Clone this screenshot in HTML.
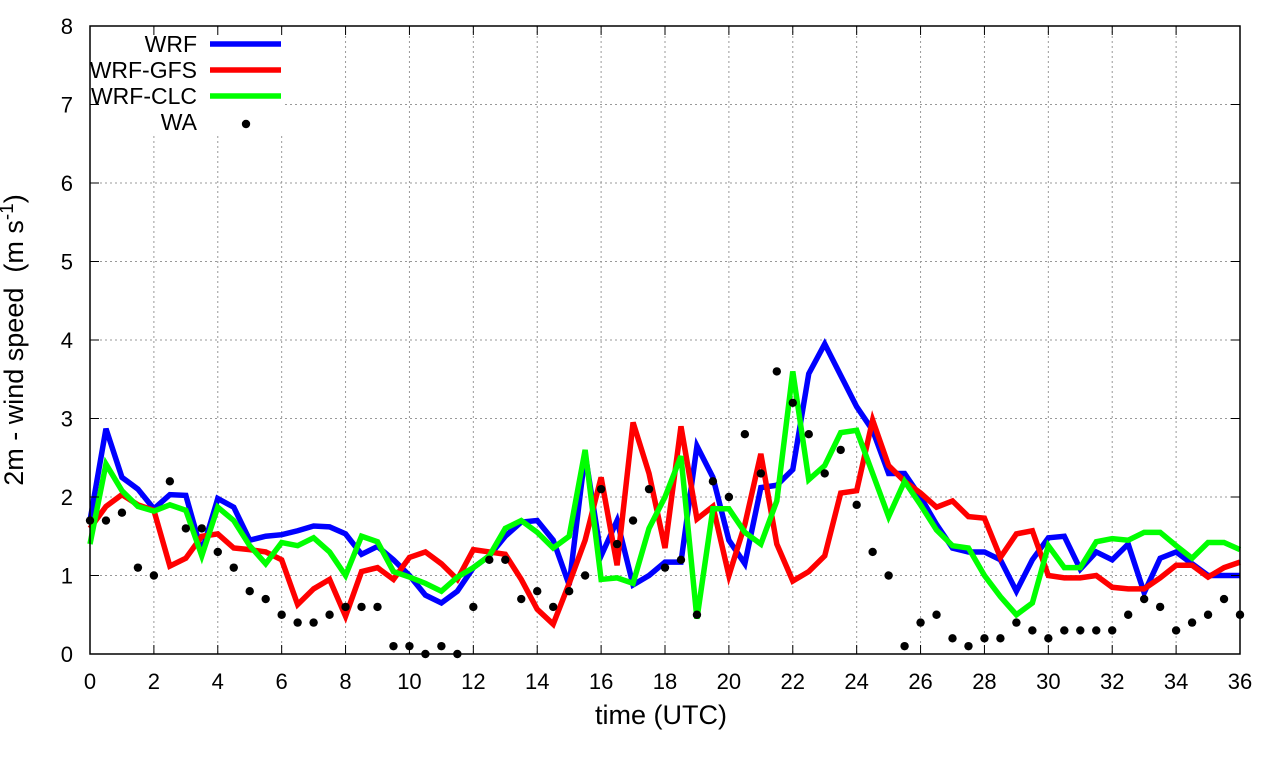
<!DOCTYPE html>
<html><head><meta charset="utf-8"><style>
body{margin:0;background:#fff;}
svg{display:block;font-family:"Liberation Sans",sans-serif;}
</style></head><body>
<svg id="chart" width="1280" height="760">
<g id="grid"></g>
<rect x="80" y="30" width="205" height="105" fill="#fff"/>
<g id="series"></g>
<rect x="90" y="26" width="1150" height="628" fill="none" stroke="#000" stroke-width="1.5"/>
<g id="ticks"></g>
<text x="661" y="724" font-size="27" text-anchor="middle">time (UTC)</text>
<text transform="translate(23,340) rotate(-90)" font-size="27" text-anchor="middle" style="white-space:pre">2m - wind speed  (m s<tspan dy="-10" font-size="19">-1</tspan><tspan dy="10">)</tspan></text>
<g id="legend"></g>
</svg>
<script>
const times=[];for(let i=0;i<=72;i++)times.push(i*0.5);
const xTicks=[0,2,4,6,8,10,12,14,16,18,20,22,24,26,28,30,32,34,36];
const yTicks=[0,1,2,3,4,5,6,7,8];
const wrf=[1.7,2.87,2.25,2.1,1.85,2.03,2.02,1.3,1.98,1.87,1.45,1.5,1.52,1.57,1.63,1.62,1.53,1.27,1.37,1.2,1.0,0.75,0.65,0.8,1.1,1.25,1.5,1.68,1.7,1.45,0.88,2.55,1.25,1.7,0.88,1.0,1.17,1.17,2.65,2.25,1.45,1.15,2.12,2.15,2.35,3.57,3.95,3.55,3.15,2.85,2.3,2.3,2.0,1.65,1.35,1.3,1.3,1.2,0.8,1.2,1.48,1.5,1.08,1.3,1.2,1.4,0.78,1.22,1.3,1.15,1.0,1.0,1.0];
const wrfGfs=[1.6,1.88,2.03,1.9,1.83,1.12,1.22,1.5,1.53,1.35,1.33,1.3,1.2,0.63,0.83,0.95,0.48,1.05,1.1,0.95,1.23,1.3,1.15,0.95,1.33,1.3,1.27,0.95,0.57,0.38,0.9,1.45,2.25,1.13,2.95,2.3,1.35,2.9,1.72,1.88,1.0,1.65,2.55,1.4,0.93,1.05,1.25,2.05,2.08,2.98,2.4,2.2,2.05,1.87,1.95,1.75,1.73,1.23,1.53,1.57,1.0,0.97,0.97,1.0,0.85,0.83,0.83,0.97,1.13,1.13,0.98,1.1,1.17];
const wrfClc=[1.4,2.42,2.08,1.88,1.82,1.9,1.83,1.25,1.87,1.7,1.38,1.15,1.42,1.38,1.48,1.3,1.0,1.5,1.43,1.05,0.98,0.9,0.8,0.98,1.1,1.25,1.6,1.7,1.55,1.35,1.5,2.6,0.95,0.97,0.9,1.6,2.0,2.52,0.45,1.85,1.85,1.55,1.4,1.95,3.6,2.22,2.4,2.82,2.85,2.3,1.75,2.2,1.9,1.58,1.38,1.35,1.0,0.73,0.5,0.65,1.38,1.1,1.1,1.43,1.47,1.45,1.55,1.55,1.38,1.22,1.42,1.42,1.33];
const wa=[1.7,1.7,1.8,1.1,1.0,2.2,1.6,1.6,1.3,1.1,0.8,0.7,0.5,0.4,0.4,0.5,0.6,0.6,0.6,0.1,0.1,0,0.1,0,0.6,1.2,1.2,0.7,0.8,0.6,0.8,1.0,2.1,1.4,1.7,2.1,1.1,1.2,0.5,2.2,2.0,2.8,2.3,3.6,3.2,2.8,2.3,2.6,1.9,1.3,1.0,0.1,0.4,0.5,0.2,0.1,0.2,0.2,0.4,0.3,0.2,0.3,0.3,0.3,0.3,0.5,0.7,0.6,0.3,0.4,0.5,0.7,0.5];
const seriesNames=["WRF","WRF-GFS","WRF-CLC","WA"];
const NS="http://www.w3.org/2000/svg";
const X=t=>90+t*(1150/36), Y=v=>654-v*(628/8);
function mk(tag,attrs,parent){const e=document.createElementNS(NS,tag);for(const k in attrs)e.setAttribute(k,attrs[k]);parent.appendChild(e);return e;}
const grid=document.getElementById('grid'),ticks=document.getElementById('ticks');
xTicks.forEach(t=>{
 if(t>0&&t<36){const l=mk('line',{x1:X(t),x2:X(t),y1:26,y2:654,stroke:'#999','stroke-dasharray':'2,3'},grid);
 }
 const a=mk('line',{x1:X(t),x2:X(t),y1:654,y2:645,stroke:'#000'},ticks);
 
 const b=mk('line',{x1:X(t),x2:X(t),y1:26,y2:35,stroke:'#000'},ticks);
 
 const tx=mk('text',{x:X(t),y:689,'font-size':22,'text-anchor':'middle'},ticks);tx.textContent=t;
 
});
yTicks.forEach(v=>{
 if(v>0&&v<8){const l=mk('line',{x1:90,x2:1240,y1:Y(v),y2:Y(v),stroke:'#999','stroke-dasharray':'2,3'},grid);
 }
 const a=mk('line',{x1:90,x2:99,y1:Y(v),y2:Y(v),stroke:'#000'},ticks);
 
 const b=mk('line',{x1:1231,x2:1240,y1:Y(v),y2:Y(v),stroke:'#000'},ticks);
 
 const tx=mk('text',{x:73,y:Y(v)+8,'font-size':22,'text-anchor':'end'},ticks);tx.textContent=v;
 
});
const sg=document.getElementById('series');
[[wrf,'#0000ff','wrf-line'],[wrfGfs,'#ff0000','wrf-gfs-line'],[wrfClc,'#00ff00','wrf-clc-line']].forEach(([d,c,n])=>{
 const p=mk('polyline',{points:d.map((v,i)=>X(times[i])+','+Y(v)).join(' '),fill:'none',stroke:c,'stroke-width':5.5,'stroke-linejoin':'miter'},sg);
 
});
wa.forEach((v,i)=>{const c=mk('circle',{cx:X(times[i]),cy:Y(v),r:4.2,fill:'#000'},sg);
 });
const lg=document.getElementById('legend');
const lcol=['#0000ff','#ff0000','#00ff00'];
seriesNames.forEach((n,i)=>{
 const y=44+i*26;
 const t=mk('text',{x:197,y:y+8,'font-size':23,'text-anchor':'end'},lg);t.textContent=n;
 
 if(i<3){const l=mk('line',{x1:210,x2:281,y1:y,y2:y,stroke:lcol[i],'stroke-width':5.5},lg);
  }
 else{const c=mk('circle',{cx:246,cy:124,r:4.2,fill:'#000'},lg);
  }
});
</script>
</body></html>
